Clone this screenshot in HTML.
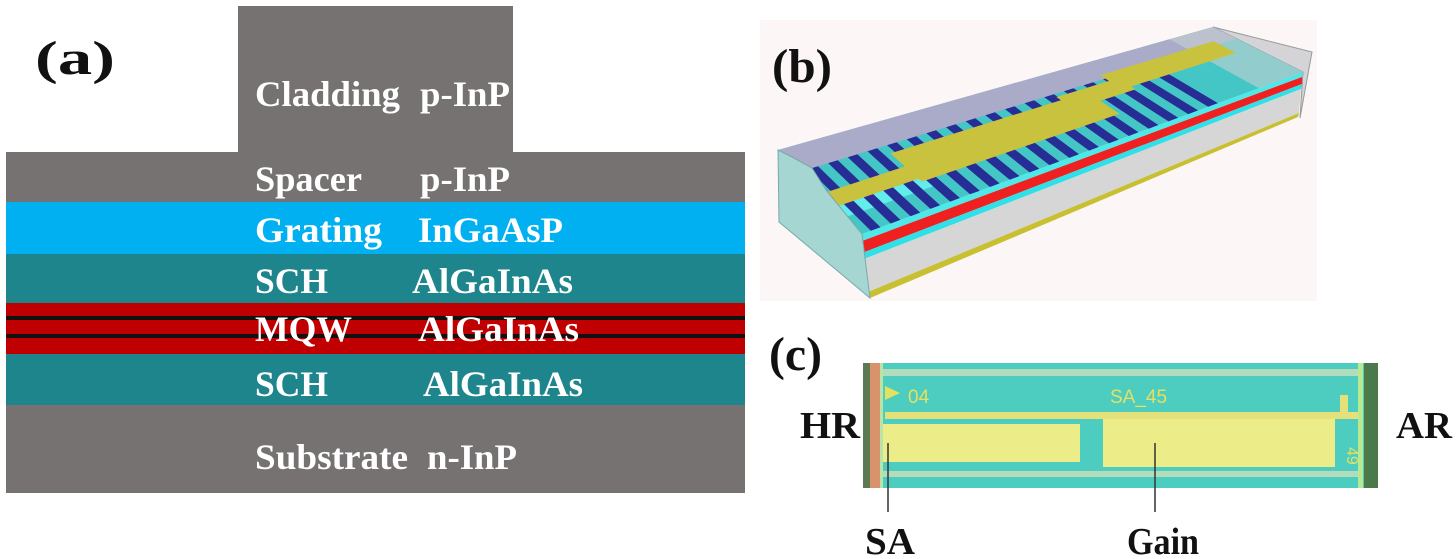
<!DOCTYPE html>
<html><head><meta charset="utf-8"><style>
html,body{margin:0;padding:0;background:#fff;}
svg{display:block;}
.w{font-family:"Liberation Serif",serif;font-weight:bold;fill:#fff;font-size:36px;}
.k{font-family:"Liberation Serif",serif;font-weight:bold;fill:#111;}
</style></head><body>
<svg width="1456" height="559" viewBox="0 0 1456 559" xmlns="http://www.w3.org/2000/svg">
<!-- Panel a -->
<rect x="238" y="6" width="275" height="147" fill="#767272"/>
<rect x="6" y="152" width="739" height="51" fill="#767272"/>
<rect x="6" y="202" width="739" height="52" fill="#00b0f0"/>
<rect x="6" y="254" width="739" height="50" fill="#1f858c"/>
<rect x="6" y="303" width="739" height="51" fill="#c00000"/>
<rect x="6" y="316" width="739" height="4" fill="#111"/>
<rect x="6" y="334" width="739" height="4" fill="#111"/>
<rect x="6" y="354" width="739" height="51" fill="#1f858c"/>
<rect x="6" y="405" width="739" height="88" fill="#767272"/>
<text class="k" x="35" y="74" font-size="48" textLength="80" lengthAdjust="spacingAndGlyphs">(a)</text>
<text class="w" x="255" y="106" textLength="145" lengthAdjust="spacingAndGlyphs">Cladding</text>
<text class="w" x="420" y="106" textLength="90" lengthAdjust="spacingAndGlyphs">p-InP</text>
<text class="w" x="255" y="191" textLength="107" lengthAdjust="spacingAndGlyphs">Spacer</text>
<text class="w" x="420" y="191" textLength="90" lengthAdjust="spacingAndGlyphs">p-InP</text>
<text class="w" x="255" y="242" textLength="127" lengthAdjust="spacingAndGlyphs">Grating</text>
<text class="w" x="418" y="242" textLength="145" lengthAdjust="spacingAndGlyphs">InGaAsP</text>
<text class="w" x="255" y="293" textLength="73" lengthAdjust="spacingAndGlyphs">SCH</text>
<text class="w" x="412" y="293" textLength="161" lengthAdjust="spacingAndGlyphs">AlGaInAs</text>
<text class="w" x="255" y="341" textLength="97" lengthAdjust="spacingAndGlyphs">MQW</text>
<text class="w" x="418" y="341" textLength="161" lengthAdjust="spacingAndGlyphs">AlGaInAs</text>
<text class="w" x="255" y="396" textLength="73" lengthAdjust="spacingAndGlyphs">SCH</text>
<text class="w" x="423" y="396" textLength="160" lengthAdjust="spacingAndGlyphs">AlGaInAs</text>
<text class="w" x="255" y="469" textLength="153" lengthAdjust="spacingAndGlyphs">Substrate</text>
<text class="w" x="427" y="469" textLength="90" lengthAdjust="spacingAndGlyphs">n-InP</text>

<!-- Panel b -->
<rect x="760" y="20" width="557" height="281" fill="#fcf6f6"/>
<text class="k" x="772" y="82" font-size="48" textLength="60" lengthAdjust="spacingAndGlyphs">(b)</text>
<!-- right end face -->
<polygon points="1213,27 1312,52 1300,118 1303,72" fill="#d4d4d8" stroke="#999" stroke-width="1"/>
<!-- side face layers -->
<polygon points="862,234 1303,72 1302,77 862,241" fill="#4fe8e8"/>
<polygon points="862,241 1302,77 1302,84 862,253" fill="#ee2020"/>
<polygon points="862,253 1302,84 1301,89 864,259" fill="#30e0e8"/>
<polygon points="864,259 1301,89 1299,113 868,292" fill="#d6d6d6"/>
<polygon points="868,292 1299,113 1298,117 870,298" fill="#c8c030"/>
<!-- top face -->
<polygon points="778,150 1213,27 1303,72 862,234" fill="#44c6c6"/>
<polygon points="778,150 1213,27 1236.4,38.7 799.8,171.8" fill="#a9abc9"/>
<polygon points="1169.5,39.3 1213,27 1303,72 1258.9,88.2" fill="#c8d0d0" opacity="0.6"/>
<polygon points="824.2,196.2 911.9,167.3 933.2,186.3 845.2,217.2" fill="#62ecec"/>
<g fill="#262d94">
<polygon points="808.5,169.1 818.1,166.2 880.5,227.2 870.8,230.8"/>
<polygon points="828.2,163.1 837.8,160.2 900.4,219.9 890.7,223.5"/>
<polygon points="847.8,157.2 857.4,154.2 920.2,212.6 910.5,216.2"/>
<polygon points="867.5,151.2 877.1,148.2 940.1,205.3 930.4,208.9"/>
<polygon points="887.1,145.2 896.7,142.2 959.9,198.0 950.2,201.6"/>
<polygon points="906.8,139.2 916.4,136.2 979.8,190.7 970.0,194.3"/>
<polygon points="926.4,133.2 936.0,130.2 999.6,183.4 989.9,187.0"/>
<polygon points="946.1,127.2 955.7,124.2 1019.5,176.1 1009.7,179.7"/>
<polygon points="965.7,121.2 975.3,118.3 1039.3,168.8 1029.6,172.4"/>
<polygon points="985.4,115.2 995.0,112.3 1059.2,161.5 1049.4,165.1"/>
<polygon points="1005.0,109.2 1014.6,106.3 1079.0,154.2 1069.3,157.9"/>
<polygon points="1024.6,103.3 1034.2,100.3 1098.8,146.9 1089.1,150.6"/>
<polygon points="1044.3,97.3 1053.9,94.3 1118.7,139.6 1109.0,143.3"/>
<polygon points="1063.9,91.3 1073.5,88.3 1138.5,132.3 1128.8,136.0"/>
<polygon points="1083.6,85.3 1093.2,82.3 1158.4,125.0 1148.7,128.7"/>
<polygon points="1103.2,79.3 1112.8,76.3 1178.2,117.7 1168.5,121.4"/>
<polygon points="1122.9,73.3 1132.5,70.3 1198.1,110.4 1188.3,114.1"/>
<polygon points="1142.5,67.3 1152.1,64.3 1217.9,103.1 1208.2,106.8"/>
</g>
<g fill="#c9c23e">
<polygon points="821.7,193.7 909.3,165.0 922.9,177.2 835.1,207.1"/>
<polygon points="890.5,153.4 1087.1,92.0 1119.6,113.8 921.9,181.7"/>
<polygon points="1056.5,97.1 1117.7,78.2 1135.4,89.4 1074.0,109.4"/>
<polygon points="1100.1,75.2 1213.6,41.2 1236.0,52.9 1122.2,89.4"/>
</g>
<!-- left end face -->
<polygon points="778,150 792,157 812,168 826,190 862,234 870,298 779,222" fill="#a6d6d2" stroke="#7aa" stroke-width="1"/>

<!-- Panel c -->
<text class="k" x="769" y="370" font-size="48" textLength="53" lengthAdjust="spacingAndGlyphs">(c)</text>
<rect x="863" y="363" width="515" height="125" fill="#4ccdc0"/>
<rect x="863" y="363" width="7" height="125" fill="#5c7a52"/>
<rect x="870" y="363" width="10" height="125" fill="#d8926c"/>
<rect x="880" y="363" width="3" height="125" fill="#b8e4a8"/>
<rect x="883" y="369" width="480" height="7" fill="#b2dcbc"/>
<rect x="883" y="471" width="480" height="6" fill="#b2dcbc"/>
<polygon points="885,386 900,393 885,400" fill="#e6e060"/>
<text x="908" y="403" font-family="Liberation Sans,sans-serif" font-size="19" fill="#e6e060">04</text>
<text x="1110" y="403" font-family="Liberation Sans,sans-serif" font-size="19" fill="#e6e060">SA_45</text>
<rect x="885" y="412" width="478" height="7" fill="#e4e07a"/>
<rect x="883" y="424" width="197" height="38" fill="#ecec88"/>
<rect x="1103" y="419" width="232" height="48" fill="#ecec88"/>
<rect x="1340" y="395" width="8" height="18" fill="#e4e07a"/>
<text x="0" y="0" font-family="Liberation Sans,sans-serif" font-size="16" fill="#e6e060" transform="translate(1347,447) rotate(90)">49</text>
<rect x="1358" y="363" width="5" height="125" fill="#b8e890"/>
<rect x="1364" y="363" width="14" height="125" fill="#4a7a4c"/>
<line x1="888" y1="443" x2="888" y2="512" stroke="#333" stroke-width="1.5"/>
<line x1="1155" y1="443" x2="1155" y2="512" stroke="#333" stroke-width="1.5"/>
<text class="k" x="800" y="438" font-size="38" textLength="60" lengthAdjust="spacingAndGlyphs">HR</text>
<text class="k" x="1396" y="438" font-size="38" textLength="56" lengthAdjust="spacingAndGlyphs">AR</text>
<text class="k" x="865" y="554" font-size="38" textLength="50" lengthAdjust="spacingAndGlyphs">SA</text>
<text class="k" x="1127" y="554" font-size="38" textLength="72" lengthAdjust="spacingAndGlyphs">Gain</text>
</svg>
</body></html>
